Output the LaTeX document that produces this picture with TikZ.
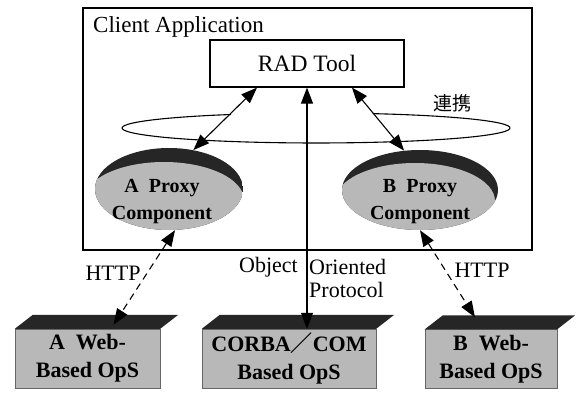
\documentclass[tikz,border=0pt]{standalone}
\usepackage{fontspec}
\setmainfont{Liberation Serif}
\newfontfamily\cjk{Noto Sans CJK JP}
\usepackage{tikz}
\usetikzlibrary{arrows.meta,positioning,shapes.geometric,calc}

\begin{document}
\begin{tikzpicture}[x=1pt,y=1pt,
  frame/.style={draw,line width=1.3pt,minimum width=449pt,minimum height=242pt,inner sep=0pt},
  tool/.style={draw,line width=1.2pt,fill=white,minimum width=194pt,minimum height=47pt,
    font=\fontsize{23.5}{26}\selectfont},
  proxy/.style={ellipse,inner sep=0pt,path picture={
      \fill[black!85] (path picture bounding box.south west) rectangle (path picture bounding box.north east);
      \fill[black!28] ($(path picture bounding box.center)+(-5,-11)$) ellipse [x radius=80pt,y radius=38pt];}},
  ptext/.style={align=center,inner sep=0pt,font=\bfseries\fontsize{20}{27}\selectfont},
  ops/.style={draw=black!60,fill=black!28,align=center,inner sep=0pt,minimum height=59pt,
    font=\bfseries\fontsize{22}{28}\selectfont},
  lbl/.style={inner sep=0pt,font=\fontsize{22}{23}\selectfont},
  arr/.style={{Triangle[length=16pt,width=12pt]}-{Triangle[length=16pt,width=12pt]},line width=1.1pt},
  dasharr/.style={arr,dash pattern=on 7pt off 5pt}
]
\useasboundingbox (0,0) rectangle (578,392);
% client side
\node[frame] (client) at (307.5,263) {};
\node[lbl,anchor=west,font=\fontsize{23}{25}\selectfont] (title) at (93,365) {Client Application};
\node[tool] (rad) at (307,328.5) {RAD Tool};
\draw[line width=1.1pt] (231,277.5) arc[start angle=116,end angle=433,x radius=194pt,y radius=15pt];
\node[lbl,font=\cjk\fontsize{19}{20}\selectfont] (link) at (452,289) {連携};
\node[proxy,minimum width=148pt,minimum height=82pt] (pA) at (169,203) {};
\node[ptext] at (162,190) {A\enspace Proxy\\Component};
\node[proxy,minimum width=156pt,minimum height=80pt] (pB) at (420,202) {};
\node[ptext] at (420,190) {B\enspace Proxy\\Component};
% operation servers
\node[ops,minimum width=145pt] (wA) at (87.5,33.5) {A\enspace Web-\\Based OpS};
\node[ops,minimum width=174pt] (wC) at (289,33.5) {CORBA{\cjk ／}COM\\Based OpS};
\node[ops,minimum width=132pt] (wB) at (491,33) {B\enspace Web-\\Based OpS};
\foreach \w in {wA,wC,wB}
  \fill[black!85] (\w.north west) -- ++(18,14) -- ($(\w.north east)+(18,14)$) -- (\w.north east) -- cycle;
% connectors
\draw[arr] ([xshift=-50pt]rad.south) -- (pA.58);
\draw[arr] ([xshift=45pt]rad.south) -- (pB.112);
\draw[arr] (rad.south) -- (rad.south |- wC.north);
\draw[dasharr] ([xshift=6pt]pA.south) -- ($(wA.north)+(26,4)$);
\draw[dasharr] (pB.south) -- ($(wB.north)+(-16,12)$);
\node[lbl] (httpA) at (113,119) {HTTP};
\node[lbl,anchor=east] (obj) at (298,125) {Object};
\node[lbl,anchor=west,align=left] (oop) at (309,114) {Oriented\\Protocol};
\node[lbl] (httpB) at (482,122) {HTTP};
\end{tikzpicture}
\end{document}
